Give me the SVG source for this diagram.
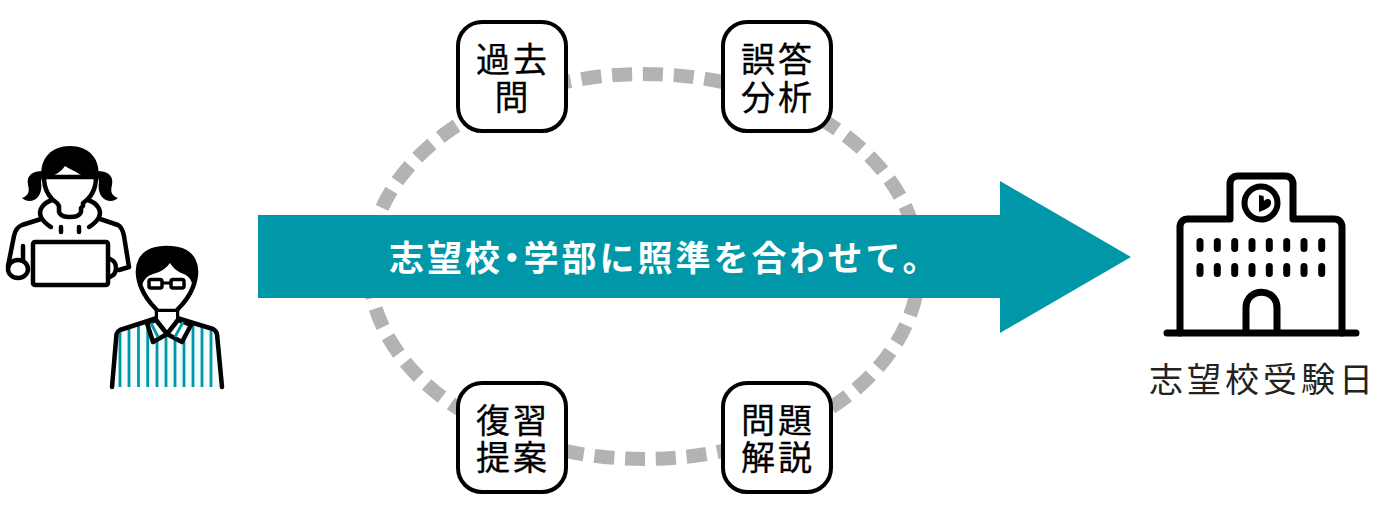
<svg xmlns="http://www.w3.org/2000/svg" width="1380" height="506" viewBox="0 0 1380 506">
<style>
.n{fill:#fff;stroke:#000;stroke-width:4}
.t{font-family:"Liberation Sans","Noto Sans CJK JP",sans-serif;font-size:34px;fill:#000;stroke:#000;stroke-width:.3px;text-anchor:middle;letter-spacing:3px}
.b{font-family:"Noto Sans CJK JP",sans-serif;font-weight:700;font-size:35px;fill:#fff;letter-spacing:3px}
.h{font-feature-settings:"halt"}
.l{fill:#fff;stroke:#000;stroke-width:4.500;stroke-linecap:round;stroke-linejoin:round}
.o{fill:none;stroke:#000;stroke-width:4.500;stroke-linecap:round;stroke-linejoin:round}
.w{fill:none;stroke:#000;stroke-width:7;stroke-linecap:round;stroke-linejoin:round}
.k{fill:#000}
.s{stroke:#0097a9;stroke-width:2.800;fill:none}
</style>
<defs><clipPath id="body"><path d="M112 387L117 333L157 319H177L217 333L221 387Z"/></clipPath></defs>
<rect width="1380" height="506" fill="#fff"/>
<g id="connectors">
<path d="M644 74A275 192.500 0 1 1 644 459A275 192.500 0 1 1 644 74Z" pathLength="1480" fill="none" stroke="#b3b3b3" stroke-width="14" stroke-dasharray="20 10.830" stroke-dashoffset="1"/>
<path id="arrow" d="M258 215H1000V181L1131 257L1000 333V298H258Z" fill="#0097a9"/>
</g>
<g id="arrow-label"><text class="b" x="389" y="271">志望校<tspan class="h">・</tspan>学部に照準を合わせて。</text></g>
<g id="node-kakomon"><rect class="n" x="458" y="22" width="108" height="109" rx="24"/><text class="t" x="513" y="71.500">過去</text><text class="t" x="513" y="109.500">問</text></g>
<g id="node-gotou"><rect class="n" x="723" y="22" width="108" height="109" rx="24"/><text class="t" x="778" y="71.500">誤答</text><text class="t" x="778" y="109.500">分析</text></g>
<g id="node-fukushu"><rect class="n" x="458" y="383" width="108" height="109" rx="24"/><text class="t" x="513" y="433">復習</text><text class="t" x="513" y="470">提案</text></g>
<g id="node-mondai"><rect class="n" x="723" y="383" width="108" height="109" rx="24"/><text class="t" x="778" y="433">問題</text><text class="t" x="778" y="470">解説</text></g>
<g id="node-students">
<path class="k" d="M43 171C33 171 26 175 28 185C30 192 28 196 22 198C26 202 33 202 37 198C41 194 42 188 41 182ZM97 171C107 171 114 175 112 185C110 192 112 196 118 198C114 202 107 202 103 198C99 194 98 188 99 182Z"/>
<path class="l" d="M57 203C48 197 44 187 44 177H96C96 187 92 197 83 203V206L81 208V212C79 217 74 217 70 217C66 217 61 217 59 212V206Z"/>
<path class="k" d="M42 181C38 158 52 146 70 146C88 146 102 158 98 181C94 178 84 178 76 172C72 170 68 168 65 166C62 171 54 176 47 178C45 179 44 180 42 181Z"/>
<path class="o" d="M52 200C43 203 38 210 41 217C43 222 48 225 51 227M88 200C97 203 102 210 99 217C97 222 92 225 89 227"/>
<path class="o" d="M41 219L22 225C17 227 15 231 14 236L8 266M100 219L118 225C122 227 123 231 124 236L129 267L119 270"/>
<path class="o" d="M61 227V232M79 227V232M23 246V262"/>
<ellipse class="l" cx="18" cy="269" rx="10" ry="9"/>
<path class="o" d="M110 259C118 262 118 274 110 277"/>
<rect class="l" x="33" y="242" width="75" height="43" rx="2"/>
</g>
<g id="node-teacher">
<path d="M112 387L117 333L157 319H177L217 333L221 387Z" fill="#f4fbfc"/>
<path class="s" clip-path="url(#body)" d="M120 320V387M129 320V387M138.500 320V387M147.700 320V387M157 320V387M166 320V387M175 320V387M184 320V387M193 320V387M202 320V387M211 320V387"/>
<path class="o" d="M112 387L116.500 334C117 332 118 331 120 330L157 318M222 387L217 334C216.500 332 215 330 213 329L177 318"/>
<path class="l" d="M157 309V320L167 333L177 320V309"/>
<path class="l" d="M141 287C134 268 138 248 167 248C196 248 200 268 193 287C188 300 181 306 176 311H158C153 306 146 300 141 287Z"/>
<path class="k" d="M141 288C133 268 138 247 167 247C196 247 201 268 193 288C192 281 190 277 184 274C178 272 173 268 170 263C167 267 162 272 153 274C146 276 143 281 141 288Z"/>
<path d="M158 312H176V319L167 331L158 319Z" fill="#fff"/>
<path class="l" d="M147 323L153 342L167 334L182 342L191 325L178 320L167 334L156 320Z"/>
<path class="s" d="M151 323L158 337M183 322L175 337"/>
<rect x="149" y="279.500" width="13" height="8.500" rx="2" fill="#fff" stroke="#000" stroke-width="3.500"/><rect x="171" y="279.500" width="13" height="8.500" rx="2" fill="#fff" stroke="#000" stroke-width="3.500"/><path d="M162 283H171" stroke="#000" stroke-width="3"/>
</g>
<g id="node-school">
<path class="w" d="M1180 333V227C1180 222 1183 219 1188 219H1230V184C1230 179 1233 176 1238 176H1285C1290 176 1293 179 1293 184V219H1334C1339 219 1342 222 1342 227V333"/>
<path class="w" d="M1167 333H1356M1246 333V308C1246 287 1277 287 1277 308V333"/>
<circle cx="1261" cy="203" r="16.500" fill="#fff" stroke="#000" stroke-width="6"/>
<path class="k" d="M1259 195L1263.500 196L1264 201C1268 197 1272 200 1271 204C1270 208 1264 210 1259 212Z"/>
<path stroke="#000" stroke-width="7" stroke-linecap="round" d="M1200 241.500V248.500M1217.300 241.500V248.500M1234.700 241.500V248.500M1252 241.500V248.500M1269.300 241.500V248.500M1286.700 241.500V248.500M1304 241.500V248.500M1321.700 241.500V248.500M1200 266.500V273.500M1217.300 266.500V273.500M1234.700 266.500V273.500M1252 266.500V273.500M1269.300 266.500V273.500M1286.700 266.500V273.500M1304 266.500V273.500M1321.700 266.500V273.500"/>
<text x="1149" y="392" font-family="'Noto Sans CJK JP',sans-serif" font-size="34" fill="#222" letter-spacing="4">志望校受験日</text>
</g>
</svg>
